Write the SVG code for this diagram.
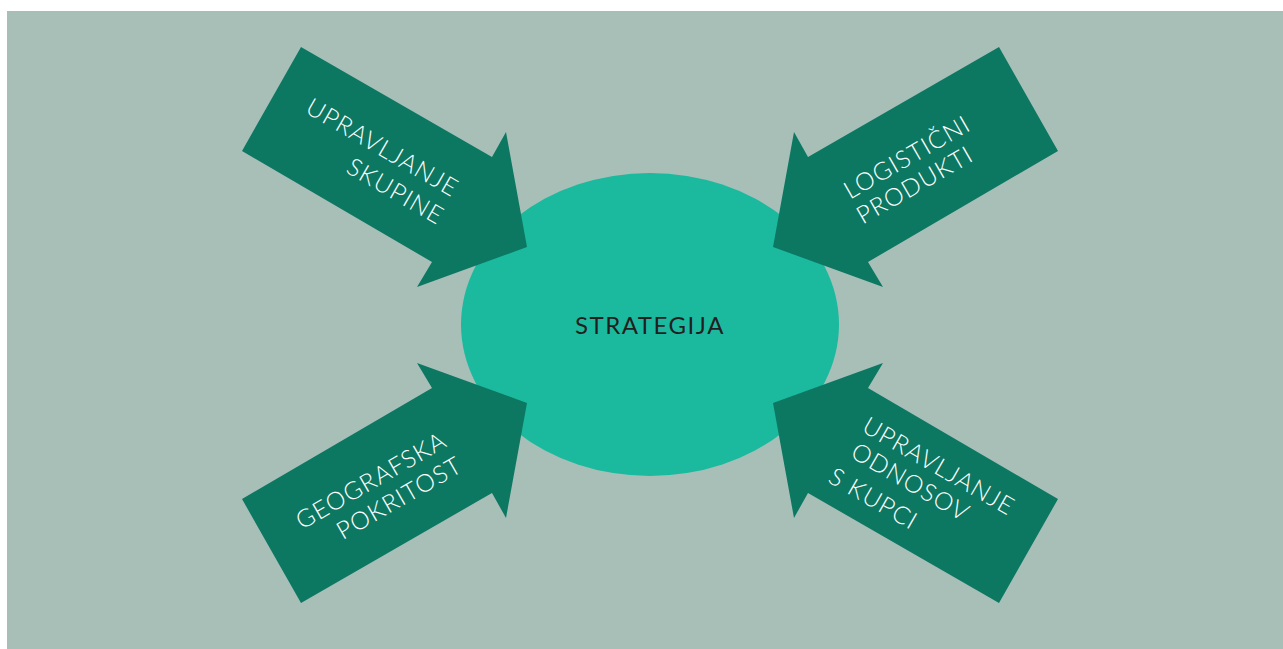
<svg xmlns="http://www.w3.org/2000/svg" width="1283" height="649" viewBox="0 0 1283 649">
  <style>
    .arrow { fill: #0c7862; }
    .lbl { font-family: Lato, "Open Sans", sans-serif; font-weight: 300; font-size: 24.5px; fill: #ffffff; text-anchor: middle; letter-spacing: 1.1px; }
    .core { font-family: Lato, "Open Sans", sans-serif; font-weight: 400; font-size: 24px; fill: #231f20; text-anchor: middle; letter-spacing: 1.5px; }
  </style>
  <rect x="7" y="11" width="1276" height="638" fill="#a8bfb8"/>

  <g id="strategija">
    <ellipse cx="650" cy="324.5" rx="189" ry="151.5" fill="#1bba9f"/>
    <text class="core" x="650" y="334">STRATEGIJA</text>
  </g>

  <g id="connectors">
    <!-- four block arrows pointing at the central ellipse -->
    <g id="arrow-skupine">
      <polygon class="arrow" points="301,47 492,157 506,132 527,247 417,287 432,262 242,151"/>
      <text class="lbl" transform="translate(382.7,147) rotate(30)" y="9">UPRAVLJANJE</text>
      <text class="lbl" transform="translate(395.7,190.7) rotate(30)" y="9">SKUPINE</text>
    </g>
    <g id="arrow-logistika">
      <polygon class="arrow" points="999,47 808,157 794,132 773,247 883,287 868,262 1058,151"/>
      <text class="lbl" transform="translate(906.7,156.7) rotate(-30)" y="9">LOGISTIČNI</text>
      <text class="lbl" transform="translate(914.5,184.5) rotate(-30)" y="9">PRODUKTI</text>
    </g>
    <g id="arrow-geografija">
      <polygon class="arrow" points="301,603 492,493 506,518 527,403 417,363 432,388 242,499"/>
      <text class="lbl" transform="translate(370.8,480) rotate(-30)" y="9">GEOGRAFSKA</text>
      <text class="lbl" transform="translate(399,497.5) rotate(-30)" y="9">POKRITOST</text>
    </g>
    <g id="arrow-kupci">
      <polygon class="arrow" points="999,603 808,493 794,518 773,403 883,363 868,388 1058,499"/>
      <text class="lbl" transform="translate(939,465.7) rotate(30)" y="9">UPRAVLJANJE</text>
      <text class="lbl" transform="translate(910.7,481.7) rotate(30)" y="9">ODNOSOV</text>
      <text class="lbl" transform="translate(873.7,498.3) rotate(30)" y="9">S KUPCI</text>
    </g>
  </g>
</svg>
